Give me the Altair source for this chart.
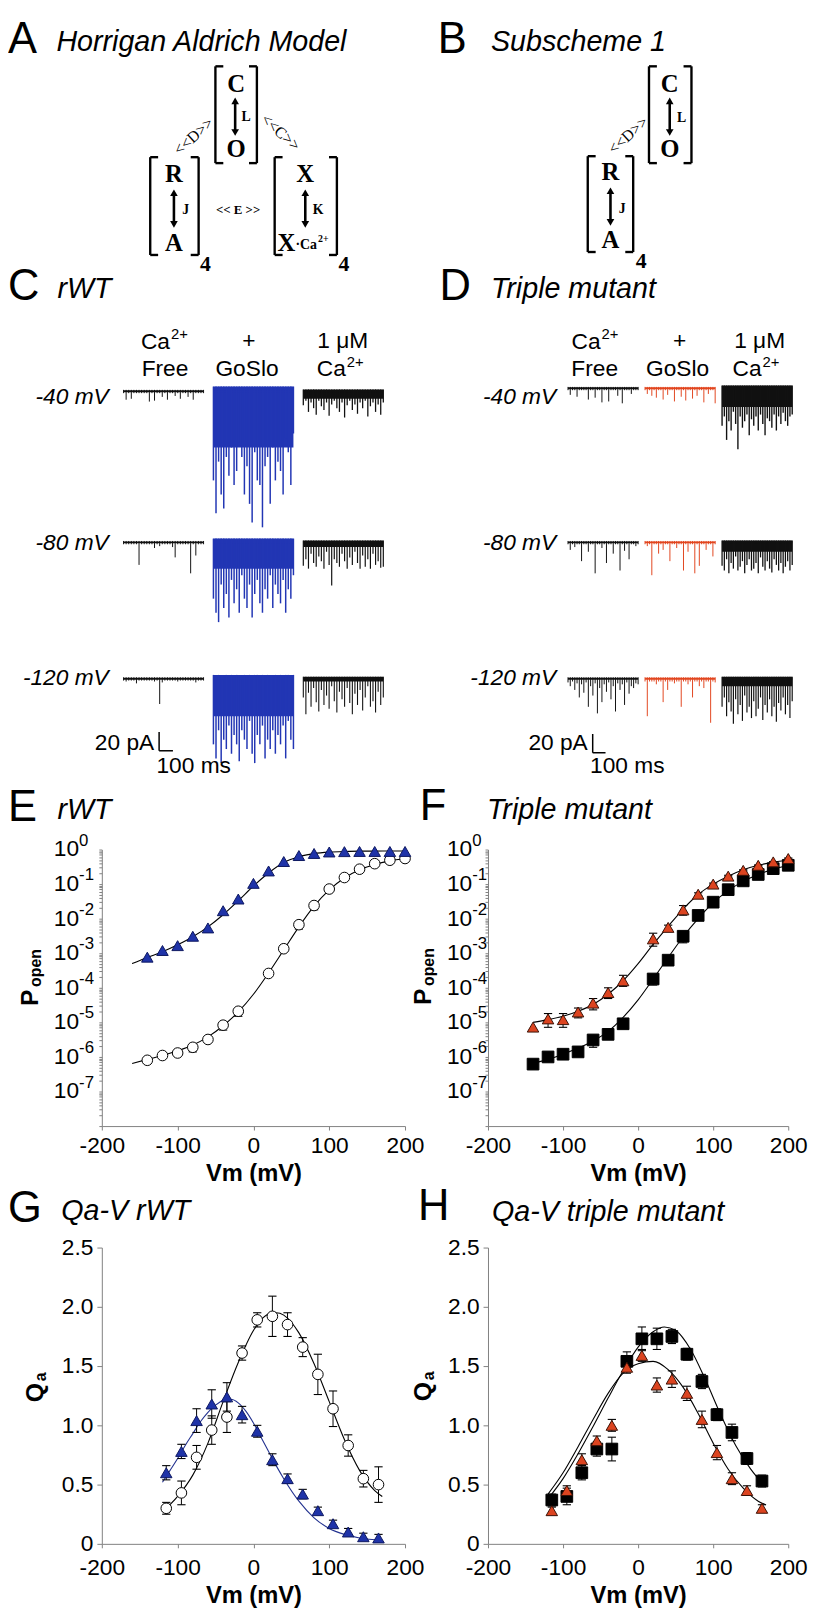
import altair as alt
import pandas as pd

FONT = "Liberation Sans"
SERIF = "Liberation Serif"
BLUE = "#1f33a8"
BLUE_LINE = "#22318f"
RED = "#dc4420"
TRACE_BLUE = "#2236b4"
TRACE_RED = "#e2461f"
GREY = "#808080"

# ---------------- data ----------------
X_TICKS = [-200, -100, 0, 100, 200]
LOG_EXPS = [0, -1, -2, -3, -4, -5, -6, -7]
Q_TICKS = [0, 0.5, 1.0, 1.5, 2.0, 2.5]

# E: rWT Popen-V
E_TRI_VM = [-140, -120, -100, -80, -60, -40, -20, 0, 20, 40, 60, 80, 100, 120, 140, 160, 180, 200]
E_TRI_P = [7.7e-4, 1.2e-3, 1.66e-3, 3.1e-3, 5.4e-3, 0.017, 0.037, 0.105, 0.24, 0.45, 0.67, 0.77, 0.85, 0.87, 0.88, 0.88, 0.88, 0.88]
E_CIRC_VM = [-140, -120, -100, -80, -60, -40, -20, 20, 40, 60, 80, 100, 120, 140, 160, 180, 200]
E_CIRC_P = [8e-7, 1.1e-6, 1.3e-6, 1.9e-6, 3.2e-6, 8.3e-6, 2.1e-5, 2.6e-4, 1.35e-3, 6.7e-3, 0.024, 0.072, 0.155, 0.27, 0.39, 0.49, 0.55]
E_ERR_VM = [-80, -40, -20, 60, 80]
E_ERR_LO = [1.4e-6, 6e-6, 1.5e-5, 5e-3, 0.018]
E_ERR_HI = [1.9e-6, 8.3e-6, 2.1e-5, 6.7e-3, 0.024]
E_FIT_VM = [-160, -140, -120, -100, -80, -60, -40, -20, 0, 20, 40, 60, 80, 100, 120, 140, 160, 180, 200]
E_FIT_TRI = [5e-4, 7.5e-4, 1.1e-3, 1.75e-3, 3e-3, 5.8e-3, 0.013, 0.033, 0.088, 0.21, 0.42, 0.62, 0.76, 0.84, 0.88, 0.9, 0.9, 0.91, 0.91]
E_FIT_CIRC = [6.5e-7, 8.5e-7, 1.1e-6, 1.5e-6, 2.2e-6, 3.8e-6, 8e-6, 2e-5, 6.5e-5, 2.7e-4, 1.25e-3, 5.8e-3, 0.023, 0.068, 0.15, 0.26, 0.37, 0.47, 0.55]

# F: triple mutant Popen-V
F_VM = [-140, -120, -100, -80, -60, -40, -20, 20, 40, 60, 80, 100, 120, 140, 160, 180, 200]
F_TRI_P = [7.3e-6, 1.26e-5, 1.2e-5, 2e-5, 3.6e-5, 7.3e-5, 1.6e-4, 2.6e-3, 5.6e-3, 0.018, 0.051, 0.1, 0.17, 0.25, 0.35, 0.44, 0.55]
F_TRI_LO = [7.3e-6, 7.2e-6, 7.2e-6, 1.35e-5, 2.3e-5, 4.9e-5, 1.1e-4, 1.6e-3, 4.8e-3, 0.0126, 0.046, 0.093, 0.16, 0.24, 0.34, 0.43, 0.53]
F_TRI_HI = [7.3e-6, 1.8e-5, 1.8e-5, 2.6e-5, 4.9e-5, 1e-4, 2.3e-4, 3.8e-3, 6.5e-3, 0.024, 0.056, 0.107, 0.18, 0.26, 0.36, 0.45, 0.57]
F_SQ_P = [6.2e-7, 1e-6, 1.2e-6, 1.4e-6, 3.1e-6, 4.5e-6, 9.1e-6, 1.8e-4, 6.3e-4, 3.1e-3, 0.0124, 0.03, 0.069, 0.124, 0.19, 0.28, 0.35]
F_SQ_LO = [6.2e-7, 1e-6, 1.2e-6, 1.4e-6, 1.9e-6, 4.5e-6, 9.1e-6, 1.2e-4, 6.3e-4, 2e-3, 9.3e-3, 0.03, 0.069, 0.124, 0.19, 0.28, 0.35]
F_SQ_HI = [6.2e-7, 1e-6, 1.2e-6, 1.4e-6, 4e-6, 4.5e-6, 9.1e-6, 2.2e-4, 6.3e-4, 4.2e-3, 0.015, 0.03, 0.069, 0.124, 0.19, 0.28, 0.35]
F_FIT_VM = [-140, -120, -100, -80, -60, -40, -20, 0, 20, 40, 60, 80, 100, 120, 140, 160, 180, 200]
F_FIT_TRI = [1e-5, 1.2e-5, 1.5e-5, 2.1e-5, 3.3e-5, 6.5e-5, 1.6e-4, 5e-4, 1.8e-3, 6e-3, 0.019, 0.05, 0.1, 0.17, 0.26, 0.35, 0.43, 0.5]
F_FIT_SQ = [6.5e-7, 8.5e-7, 1.2e-6, 1.8e-6, 2.9e-6, 5.5e-6, 1.4e-5, 4.5e-5, 1.8e-4, 7.5e-4, 3e-3, 0.01, 0.029, 0.065, 0.12, 0.19, 0.27, 0.35]

# G: Qa-V rWT
G_VM = [-115, -95, -75, -55, -35, -15, 5, 25, 45, 65, 85, 105, 125, 145, 165]
G_CIRC_Q = [0.30, 0.43, 0.73, 0.96, 1.07, 1.61, 1.89, 1.92, 1.85, 1.66, 1.43, 1.14, 0.83, 0.55, 0.50]
G_CIRC_ERR = [0.05, 0.10, 0.10, 0.12, 0.13, 0.06, 0.06, 0.17, 0.10, 0.08, 0.17, 0.15, 0.09, 0.07, 0.15]
G_TRI_Q = [0.60, 0.78, 1.04, 1.18, 1.24, 1.09, 0.95, 0.71, 0.55, 0.42, 0.28, 0.17, 0.10, 0.06, 0.05]
G_TRI_ERR = [0.06, 0.06, 0.10, 0.12, 0.12, 0.07, 0.05, 0.05, 0.04, 0.04, 0.03, 0.03, 0.03, 0.03, 0.03]
G_FIT_TRI_VM = [-120, -110, -100, -90, -80, -70, -60, -50, -40, -30, -20, -10, 0, 10, 20, 30, 40, 60, 80, 100, 120, 140, 170]
G_FIT_TRI = [0.52, 0.62, 0.72, 0.83, 0.93, 1.03, 1.11, 1.17, 1.21, 1.22, 1.19, 1.12, 1.02, 0.90, 0.78, 0.66, 0.55, 0.36, 0.22, 0.13, 0.08, 0.05, 0.03]
G_FIT_CIRC_VM = [-120, -100, -80, -60, -40, -20, 0, 10, 20, 30, 40, 50, 60, 80, 100, 120, 140, 160, 170]
G_FIT_CIRC = [0.27, 0.40, 0.58, 0.85, 1.20, 1.53, 1.80, 1.89, 1.94, 1.95, 1.93, 1.87, 1.78, 1.52, 1.20, 0.88, 0.62, 0.45, 0.40]

# H: Qa-V triple mutant
H_VM = [-115, -95, -75, -55, -35, -15, 5, 25, 45, 65, 85, 105, 125, 145, 165]
H_SQ_Q = [0.37, 0.40, 0.60, 0.80, 0.80, 1.54, 1.73, 1.73, 1.75, 1.60, 1.37, 1.09, 0.94, 0.72, 0.53]
H_SQ_ERR = [0.05, 0.07, 0.06, 0.06, 0.10, 0.08, 0.10, 0.09, 0.06, 0.05, 0.06, 0.05, 0.07, 0.05, 0.05]
H_TRI_Q = [0.28, 0.45, 0.71, 0.87, 1.00, 1.49, 1.59, 1.34, 1.39, 1.27, 1.05, 0.77, 0.55, 0.45, 0.30]
H_TRI_ERR = [0.03, 0.04, 0.05, 0.04, 0.05, 0.05, 0.05, 0.06, 0.07, 0.06, 0.07, 0.06, 0.05, 0.04, 0.03]
H_FIT_SQ_VM = [-120, -100, -80, -60, -40, -20, 0, 20, 35, 50, 70, 90, 110, 130, 150, 170]
H_FIT_SQ = [0.38, 0.55, 0.76, 0.99, 1.23, 1.46, 1.66, 1.79, 1.83, 1.80, 1.64, 1.38, 1.09, 0.83, 0.63, 0.48]
H_FIT_TRI_VM = [-120, -100, -80, -60, -40, -20, 0, 20, 40, 60, 80, 100, 120, 140, 160, 170]
H_FIT_TRI = [0.42, 0.60, 0.82, 1.05, 1.27, 1.44, 1.52, 1.54, 1.47, 1.32, 1.10, 0.85, 0.63, 0.47, 0.36, 0.33]

# C / D single-channel traces: downward current excursions (pA), 32 samples each,
# plus the depth (pA) of the dense, continuously flickering part of each record
C40_FREE = [2, 9, 2, 8, 2, 2, 2, 2, 2, 2, 11, 2, 10, 2, 2, 6, 2, 9, 2, 2, 5, 2, 8, 2, 2, 6, 2, 9, 2, 2, 2, 2]
C40_GOSLO = [95, 130, 75, 110, 125, 70, 90, 60, 100, 85, 55, 70, 110, 80, 120, 140, 65, 95, 100, 145, 80, 70, 120, 60, 95, 75, 85, 110, 50, 65, 100, 45]
C40_CA = [15, 10, 22, 12, 18, 25, 10, 16, 20, 12, 26, 14, 10, 18, 22, 12, 28, 15, 10, 20, 14, 24, 12, 18, 10, 27, 16, 12, 22, 14, 25, 12]
C80_FREE = [2, 2, 2, 2, 2, 2, 24, 2, 2, 2, 2, 2, 6, 2, 4, 2, 2, 2, 2, 5, 16, 2, 2, 2, 2, 2, 33, 2, 14, 2, 2, 2]
C80_GOSLO = [60, 75, 85, 45, 70, 55, 80, 40, 65, 50, 75, 35, 60, 70, 45, 80, 55, 40, 65, 75, 50, 60, 35, 70, 45, 55, 65, 40, 75, 50, 60, 35]
C80_CA = [25, 18, 28, 12, 22, 26, 15, 20, 28, 10, 24, 46, 18, 22, 26, 12, 20, 28, 16, 24, 10, 22, 28, 14, 26, 18, 28, 12, 24, 20, 27, 26]
C120_FREE = [2, 3, 2, 2, 2, 5, 2, 2, 2, 2, 2, 2, 3, 2, 27, 4, 2, 2, 2, 2, 2, 3, 2, 2, 2, 2, 2, 2, 4, 2, 2, 2]
C120_GOSLO = [70, 85, 55, 90, 65, 75, 50, 80, 60, 70, 88, 55, 65, 75, 45, 80, 90, 60, 70, 50, 85, 65, 75, 55, 80, 60, 70, 50, 85, 45, 65, 75]
C120_CA = [20, 38, 15, 30, 10, 25, 35, 12, 28, 18, 32, 8, 24, 36, 14, 22, 30, 10, 26, 38, 16, 28, 12, 34, 20, 8, 30, 24, 36, 14, 28, 20]
D40_FREE = [2, 7, 2, 2, 9, 2, 2, 2, 2, 12, 2, 2, 10, 2, 2, 15, 2, 2, 14, 2, 2, 2, 8, 2, 16, 2, 2, 2, 6, 2, 2, 2]
D40_GOSLO = [2, 6, 2, 8, 2, 10, 2, 2, 12, 2, 7, 2, 2, 14, 2, 2, 9, 2, 13, 2, 2, 11, 2, 8, 2, 2, 15, 2, 6, 2, 2, 16]
D40_CA = [40, 30, 55, 35, 45, 25, 38, 65, 30, 42, 35, 28, 50, 33, 40, 30, 45, 28, 38, 50, 32, 35, 42, 28, 45, 30, 38, 26, 35, 40, 30, 28]
D80_FREE = [2, 8, 2, 5, 2, 2, 20, 2, 2, 10, 2, 2, 33, 2, 2, 6, 2, 22, 2, 2, 12, 2, 2, 30, 2, 9, 2, 18, 2, 2, 4, 2]
D80_GOSLO = [2, 4, 2, 35, 2, 2, 12, 2, 8, 2, 2, 20, 2, 2, 6, 2, 2, 30, 2, 10, 2, 2, 33, 2, 25, 2, 2, 8, 2, 2, 15, 2]
D80_CA = [25, 30, 18, 33, 22, 28, 15, 30, 26, 20, 33, 24, 18, 30, 28, 22, 33, 16, 26, 30, 20, 28, 32, 18, 24, 30, 22, 33, 26, 20, 30, 24]
D120_FREE = [4, 8, 3, 12, 5, 20, 6, 15, 4, 30, 8, 18, 5, 37, 10, 25, 6, 14, 4, 22, 8, 35, 5, 12, 6, 28, 4, 16, 8, 10, 5, 6]
D120_GOSLO = [3, 40, 3, 3, 3, 6, 3, 3, 25, 3, 12, 3, 3, 5, 3, 3, 30, 3, 3, 6, 3, 20, 3, 3, 8, 3, 10, 3, 3, 47, 3, 4]
D120_CA = [30, 20, 40, 25, 35, 48, 22, 38, 28, 45, 18, 36, 30, 42, 24, 40, 32, 20, 44, 28, 36, 22, 40, 30, 46, 26, 34, 20, 38, 28, 42, 24]
C_BAND = [[0, 60, 8], [0, 28, 5], [0, 40, 3]]
D_BAND = [[0, 0, 20], [0, 0, 10], [0, 0, 8]]
SCALEBAR_PA = 20
SCALEBAR_MS = 100

# ---------------- layout (page pixels) ----------------
LX0, LW = 103, 307
RX0, RW = 494, 304
TOPS = [8, 323, 850, 1253]
HEIGHTS = [192, 404, 280, 300]
VSPACE = TOPS[1] - (TOPS[0] + HEIGHTS[0])
HSPACE = RX0 - (LX0 + LW)
TITLE = 29

DUMMY = alt.Data(values=[{"a": 1}])


def T(s, px, py, org, size=23, weight="normal", style="normal", font=FONT,
      align="center", baseline="middle", angle=None, color="black"):
    props = dict(text=s, fontSize=size, fontWeight=weight, fontStyle=style, font=font,
                 align=align, baseline=baseline, color=color)
    if angle is not None:
        props["angle"] = angle
    return alt.Chart(DUMMY).mark_text(**props).encode(
        x=alt.value(px - org[0]), y=alt.value(py - org[1]))


def SEGS(segs, org, width=2.4, color="black"):
    df = pd.DataFrame({"x": [s[0] - org[0] for s in segs], "y": [s[1] - org[1] for s in segs],
                       "x2": [s[2] - org[0] for s in segs], "y2": [s[3] - org[1] for s in segs]})
    return alt.Chart(df).mark_rule(strokeWidth=width, color=color).encode(
        x=alt.X("x:Q", scale=None, axis=None), y=alt.Y("y:Q", scale=None, axis=None),
        x2="x2:Q", y2="y2:Q")


def HEAD(px, py, org, up=True, size=60):
    return alt.Chart(DUMMY).mark_point(
        shape="triangle-up" if up else "triangle-down", filled=True, color="black",
        size=size, opacity=1).encode(x=alt.value(px - org[0]), y=alt.value(py - org[1]))


def bracket(L, R, top, bot, serif=8):
    return [(L, top, L, bot), (L, top, L + serif, top), (L, bot, L + serif, bot),
            (R, top, R, bot), (R - serif, top, R, top), (R - serif, bot, R, bot)]


def arrow(x, y1, y2, org):
    return [SEGS([(x, y1 + 4, x, y2 - 4)], org, width=2.6),
            HEAD(x, y1 + 4, org, True), HEAD(x, y2 - 4, org, False)]


def ca_label(xr, y, org, size=23):
    return [T("Ca", xr, y, org, size=size, align="right"),
            T("2+", xr + 1, y - 8, org, size=15, align="left")]


# ---------------- panel A ----------------
oA = (LX0, TOPS[0])
A_layers = [
    alt.Chart(DUMMY).mark_rule(opacity=0, strokeWidth=0.5).encode(
        x=alt.value(8 - oA[0]), x2=alt.value(9 - oA[0]), y=alt.value(0), y2=alt.value(1)),
    T("A", 8, 31, oA, size=44, align="left"),
    T("Horrigan Aldrich Model", 57, 32, oA, size=TITLE, style="italic", align="left"),
    SEGS(bracket(218, 260, 57, 155) + bracket(152, 201, 149, 248) + bracket(278, 341, 149, 248), oA),
]
A_layers += arrow(238, 88, 128, oA) + arrow(176, 181, 221, oA) + arrow(309, 181, 221, oA)
for s, x, y, sz in [("C", 239, 75, 25), ("O", 239, 141, 25), ("R", 176, 166, 25), ("A", 176, 236, 25),
                    ("X", 309, 166, 25), ("L", 249, 108, 14), ("J", 188, 203, 14), ("K", 322, 203, 14),
                    ("4", 208, 257, 22), ("4", 348, 257, 22)]:
    A_layers.append(T(s, x, y, oA, size=sz, weight="bold", font=SERIF))
A_layers += [
    T("X", 290, 236, oA, size=25, weight="bold", font=SERIF),
    T("·Ca", 299, 238, oA, size=14, weight="bold", font=SERIF, align="left"),
    T("2+", 322, 232, oA, size=10, weight="bold", font=SERIF, align="left"),
    T("<< E >>", 241, 203, oA, size=13, weight="bold", font=SERIF),
    T("<<D>>", 196, 128, oA, size=16, font=SERIF, angle=318),
    T("<<C>>", 284, 124, oA, size=16, font=SERIF, angle=42),
]
panelA = alt.layer(*A_layers).properties(width=LW, height=HEIGHTS[0])

# ---------------- panel B ----------------
oB = (RX0, TOPS[0])
B_layers = [
    T("B", 443, 31, oB, size=44, align="left"),
    T("Subscheme 1", 497, 32, oB, size=TITLE, style="italic", align="left"),
    SEGS(bracket(657, 700, 57, 155) + bracket(595, 641, 148, 245), oB),
]
B_layers += arrow(678, 88, 128, oB) + arrow(618, 179, 219, oB)
for s, x, y, sz in [("C", 678, 75, 25), ("O", 678, 141, 25), ("R", 618, 164, 25), ("A", 618, 233, 25),
                    ("L", 690, 109, 14), ("J", 630, 202, 14), ("4", 649, 254, 22)]:
    B_layers.append(T(s, x, y, oB, size=sz, weight="bold", font=SERIF))
B_layers.append(T("<<D>>", 636, 127, oB, size=16, font=SERIF, angle=318))
panelB = alt.layer(*B_layers).properties(width=RW, height=HEIGHTS[0])


# ---------------- trace panels C / D ----------------
def trace_panel(org, W, H, px_ms, px_pa, starts_px, length_px, base_py, grid, bands, bar_corner, extra):
    xs = alt.Scale(domain=[0, W / px_ms], nice=False, zero=False)
    ys = alt.Scale(domain=[-H / px_pa, 0], nice=False, zero=False)
    recs, bases, rects = [], [], []
    for r, row in enumerate(grid):
        ypa = (base_py[r] - org[1]) / px_pa
        for c, (depths, color, sw, up) in enumerate(row):
            t0 = (starts_px[c] - org[0]) / px_ms
            L = length_px / px_ms
            n = len(depths)
            for j, d in enumerate(depths):
                recs.append(dict(t=t0 + L * j / (n - 1), top=-ypa + up, bot=-(ypa + d), c=color, sw=sw))
            bases.append(dict(t=t0, t2=t0 + L, y=-ypa, c=color))
            if bands[r][c] > 0:
                rects.append(dict(t=t0, t2=t0 + L, y=-ypa + up, y2=-(ypa + bands[r][c]), c=color))
    X = alt.X("t:Q", scale=xs, axis=None)
    band = alt.Chart(pd.DataFrame(rects)).mark_rect().encode(
        x=X, x2="t2:Q", y=alt.Y("y:Q", scale=ys, axis=None), y2="y2:Q",
        color=alt.Color("c:N", scale=None))
    spikes = alt.Chart(pd.DataFrame(recs)).mark_rule().encode(
        x=X, y=alt.Y("top:Q", scale=ys, axis=None), y2="bot:Q",
        color=alt.Color("c:N", scale=None), strokeWidth=alt.StrokeWidth("sw:Q", scale=None))
    base = alt.Chart(pd.DataFrame(bases)).mark_rule(strokeWidth=2).encode(
        x=X, x2="t2:Q", y=alt.Y("y:Q", scale=ys, axis=None),
        color=alt.Color("c:N", scale=None))
    tb = (bar_corner[0] - org[0]) / px_ms
    yb = -(bar_corner[1] - org[1]) / px_pa
    bar_df = pd.DataFrame({"t": [tb, tb], "t2": [tb, tb + SCALEBAR_MS],
                           "y": [yb, yb], "y2": [yb + SCALEBAR_PA, yb]})
    bar = alt.Chart(bar_df).mark_rule(strokeWidth=1.5, color="black").encode(
        x=X, x2="t2:Q", y=alt.Y("y:Q", scale=ys, axis=None), y2="y2:Q")
    return alt.layer(band, base, spikes, bar, *extra).properties(width=W, height=H)


K = "#111111"
oC = (LX0, TOPS[1])
C_grid = [
    [(C40_FREE, K, 1.0, 1.5), (C40_GOSLO, TRACE_BLUE, 1.5, 5), (C40_CA, K, 1.3, 2)],
    [(C80_FREE, K, 1.0, 1.5), (C80_GOSLO, TRACE_BLUE, 1.5, 4), (C80_CA, K, 1.2, 2)],
    [(C120_FREE, K, 1.0, 1.5), (C120_GOSLO, TRACE_BLUE, 1.5, 4), (C120_CA, K, 1.1, 2)],
]
C_extra = [T("C", 8, 281, oC, size=44, align="left"),
           T("rWT", 58, 283, oC, size=TITLE, style="italic", align="left")]
C_extra += ca_label(172, 336, oC) + [T("Free", 167, 364, oC), T("+", 252, 335, oC),
                                     T("GoSlo", 250, 364, oC), T("1 μM", 347, 335, oC)]
C_extra += ca_label(350, 364, oC)
C_extra += [T("-40 mV", 110, 392, oC, style="italic", align="right"),
            T("-80 mV", 110, 540, oC, style="italic", align="right"),
            T("-120 mV", 110, 676, oC, style="italic", align="right"),
            T("20 pA", 156, 742, oC, align="right"),
            T("100 ms", 196, 766, oC)]
panelC = trace_panel(oC, LW, HEIGHTS[1], 0.14, 0.95, [125, 216, 307], 81, [386, 539, 677],
                     C_grid, C_BAND, (161, 750), C_extra)

oD = (RX0, TOPS[1])
D_grid = [
    [(D40_FREE, K, 1.0, 1.5), (D40_GOSLO, TRACE_RED, 1.0, 1.5), (D40_CA, K, 1.4, 3)],
    [(D80_FREE, K, 1.0, 1.5), (D80_GOSLO, TRACE_RED, 1.0, 1.5), (D80_CA, K, 1.3, 2)],
    [(D120_FREE, K, 1.0, 1.5), (D120_GOSLO, TRACE_RED, 1.0, 1.5), (D120_CA, K, 1.2, 2)],
]
D_extra = [T("D", 445, 281, oD, size=44, align="left"),
           T("Triple mutant", 497, 283, oD, size=TITLE, style="italic", align="left")]
D_extra += ca_label(608, 336, oD) + [T("Free", 602, 364, oD), T("+", 688, 335, oD),
                                     T("GoSlo", 686, 364, oD), T("1 μM", 769, 335, oD)]
D_extra += ca_label(771, 364, oD)
D_extra += [T("-40 mV", 563, 392, oD, style="italic", align="right"),
            T("-80 mV", 563, 540, oD, style="italic", align="right"),
            T("-120 mV", 563, 676, oD, style="italic", align="right"),
            T("20 pA", 595, 742, oD, align="right"),
            T("100 ms", 635, 766, oD)]
panelD = trace_panel(oD, RW, HEIGHTS[1], 0.13, 0.95, [575, 653, 731], 71, [383, 539, 677],
                     D_grid, D_BAND, (600, 752), D_extra)


# ---------------- shared axes ----------------
def xaxis(pad):
    return alt.Axis(values=X_TICKS, labelExpr="'' + datum.value", labelFontSize=23, labelPadding=pad,
                    tickSize=4, title="Vm (mV)", titleFontSize=24, titleFontWeight="bold",
                    titlePadding=4, labelFlush=False, labelOverlap=False, grid=False)


xsc = alt.Scale(domain=[-200, 200], nice=False, zero=False)
XAX_EF = xaxis(5)
XAX_GH = xaxis(9)
logsc = alt.Scale(type="log", domain=[1e-8, 1], nice=False)
MINOR = [m * 10.0 ** e for e in range(-8, 0) for m in range(1, 10)] + [1.0]
LOGAXIS = alt.Axis(values=MINOR, labels=False, tickSize=3, title=None, grid=False)


def log_labels(xoff):
    df = pd.DataFrame({"v": [10.0 ** e for e in LOG_EXPS], "e": [str(e) for e in LOG_EXPS]})
    y = alt.Y("v:Q", scale=logsc, axis=LOGAXIS)
    ten = alt.Chart(df).mark_text(text="10", align="right", baseline="middle", fontSize=23).encode(
        x=alt.value(xoff), y=y)
    ex = alt.Chart(df).mark_text(align="left", baseline="middle", fontSize=17, dy=-9).encode(
        x=alt.value(xoff), y=y, text="e:N")
    return [ten, ex]


def line(vm, vals, ysc, yaxis, xax, color="black", w=1.1):
    df = pd.DataFrame({"vm": vm, "v": vals})
    return alt.Chart(df).mark_line(color=color, strokeWidth=w, interpolate="monotone").encode(
        x=alt.X("vm:Q", scale=xsc, axis=xax), y=alt.Y("v:Q", scale=ysc, axis=yaxis))


def errbars(vm, lo, hi, ysc, yaxis, xax):
    rows = [(a, b, c) for a, b, c in zip(vm, lo, hi) if abs(c - b) > 1e-12]
    df = pd.DataFrame({"vm": [r[0] for r in rows], "lo": [r[1] for r in rows], "hi": [r[2] for r in rows]})
    X = alt.X("vm:Q", scale=xsc, axis=xax)
    rule = alt.Chart(df).mark_rule(color="black", strokeWidth=1).encode(
        x=X, y=alt.Y("lo:Q", scale=ysc, axis=yaxis), y2="hi:Q")
    cap1 = alt.Chart(df).mark_point(shape="stroke", size=70, color="black", strokeWidth=1.1, opacity=1).encode(
        x=X, y=alt.Y("lo:Q", scale=ysc, axis=yaxis))
    cap2 = alt.Chart(df).mark_point(shape="stroke", size=70, color="black", strokeWidth=1.1, opacity=1).encode(
        x=X, y=alt.Y("hi:Q", scale=ysc, axis=yaxis))
    return [rule, cap1, cap2]


def pts(vm, vals, ysc, yaxis, xax, shape, fill, stroke, size):
    df = pd.DataFrame({"vm": vm, "v": vals})
    return alt.Chart(df).mark_point(shape=shape, filled=True, fill=fill, stroke=stroke,
                                    strokeWidth=1, size=size, opacity=1).encode(
        x=alt.X("vm:Q", scale=xsc, axis=xax), y=alt.Y("v:Q", scale=ysc, axis=yaxis))


def popen_title(px, py, org):
    return [T("P", px, py, org, size=25, weight="bold", angle=270),
            T("open", px + 6, py - 30, org, size=16, weight="bold", angle=270)]


def qa_title(px, py, org):
    return [T("Q", px, py, org, size=25, weight="bold", angle=270),
            T("a", px + 6, py - 16, org, size=16, weight="bold", angle=270)]


# ---------------- panel E ----------------
oE = (LX0, TOPS[2])
A_ = (logsc, LOGAXIS, XAX_EF)
E_layers = [line(E_FIT_VM, E_FIT_TRI, *A_), line(E_FIT_VM, E_FIT_CIRC, *A_)]
E_layers += errbars(E_ERR_VM, E_ERR_LO, E_ERR_HI, *A_)
E_layers += [pts(E_CIRC_VM, E_CIRC_P, *A_, "circle", "white", "black", 115),
             pts(E_TRI_VM, E_TRI_P, *A_, "triangle-up", BLUE, "#0d1760", 135)]
E_layers += log_labels(-23)
E_layers += [T("E", 8, 808, oE, size=44, align="left"),
             T("rWT", 58, 810, oE, size=TITLE, style="italic", align="left")]
E_layers += popen_title(30, 1000, oE)
panelE = alt.layer(*E_layers).properties(width=LW, height=HEIGHTS[2])

# ---------------- panel F ----------------
oF = (RX0, TOPS[2])
F_layers = [line(F_FIT_VM, F_FIT_TRI, *A_), line(F_FIT_VM, F_FIT_SQ, *A_)]
F_layers += errbars(F_VM, F_TRI_LO, F_TRI_HI, *A_)
F_layers += errbars(F_VM, F_SQ_LO, F_SQ_HI, *A_)
F_layers += [pts(F_VM, F_SQ_P, *A_, "square", "black", "black", 140),
             pts(F_VM, F_TRI_P, *A_, "triangle-up", RED, "#3a1005", 135)]
F_layers += log_labels(-16)
F_layers += [T("F", 425, 807, oF, size=44, align="left"),
             T("Triple mutant", 493, 810, oF, size=TITLE, style="italic", align="left")]
F_layers += popen_title(428, 999, oF)
panelF = alt.layer(*F_layers).properties(width=RW, height=HEIGHTS[2])

# ---------------- panels G / H ----------------
qsc = alt.Scale(domain=[0, 2.5], nice=False, zero=False)
QAXIS = alt.Axis(values=Q_TICKS, labelExpr="datum.value == 0 ? '0' : format(datum.value, '.1f')",
                 labelFontSize=23, labelPadding=4, tickSize=5, title=None, grid=False)
Q_ = (qsc, QAXIS, XAX_GH)


def sym(vals, err):
    return [a - b for a, b in zip(vals, err)], [a + b for a, b in zip(vals, err)]


oG = (LX0, TOPS[3])
glo_c, ghi_c = sym(G_CIRC_Q, G_CIRC_ERR)
glo_t, ghi_t = sym(G_TRI_Q, G_TRI_ERR)
G_layers = [line(G_FIT_CIRC_VM, G_FIT_CIRC, *Q_),
            line(G_FIT_TRI_VM, G_FIT_TRI, *Q_, color=BLUE_LINE)]
G_layers += errbars(G_VM, glo_c, ghi_c, *Q_) + errbars(G_VM, glo_t, ghi_t, *Q_)
G_layers += [pts(G_VM, G_CIRC_Q, *Q_, "circle", "white", "black", 115),
             pts(G_VM, G_TRI_Q, *Q_, "triangle-up", BLUE, "#0d1760", 135)]
G_layers += [T("G", 8, 1214, oG, size=44, align="left"),
             T("Qa-V rWT", 62, 1216, oG, size=TITLE, style="italic", align="left")]
G_layers += qa_title(35, 1400, oG)
panelG = alt.layer(*G_layers).properties(width=LW, height=HEIGHTS[3])

oH = (RX0, TOPS[3])
hlo_s, hhi_s = sym(H_SQ_Q, H_SQ_ERR)
hlo_t, hhi_t = sym(H_TRI_Q, H_TRI_ERR)
H_layers = [line(H_FIT_SQ_VM, H_FIT_SQ, *Q_), line(H_FIT_TRI_VM, H_FIT_TRI, *Q_)]
H_layers += errbars(H_VM, hlo_s, hhi_s, *Q_) + errbars(H_VM, hlo_t, hhi_t, *Q_)
H_layers += [pts(H_VM, H_SQ_Q, *Q_, "square", "black", "black", 140),
             pts(H_VM, H_TRI_Q, *Q_, "triangle-up", RED, "#3a1005", 135)]
H_layers += [T("H", 423, 1212, oH, size=44, align="left"),
             T("Qa-V triple mutant", 498, 1217, oH, size=TITLE, style="italic", align="left")]
H_layers += qa_title(428, 1399, oH)
panelH = alt.layer(*H_layers).properties(width=RW, height=HEIGHTS[3])

chart = alt.concat(panelA, panelB, panelC, panelD, panelE, panelF, panelG, panelH,
                   columns=2, spacing={"row": VSPACE, "column": HSPACE},
                   bounds="flush", align="each").properties(
    padding=0, background="white"
).configure(font=FONT).configure_view(stroke=None).configure_axis(
    labelFont=FONT, titleFont=FONT, labelColor="black", titleColor="black",
    domainColor=GREY, tickColor=GREY, grid=False)

chart.save("out.html", embed_options={"renderer": "svg", "actions": False})
